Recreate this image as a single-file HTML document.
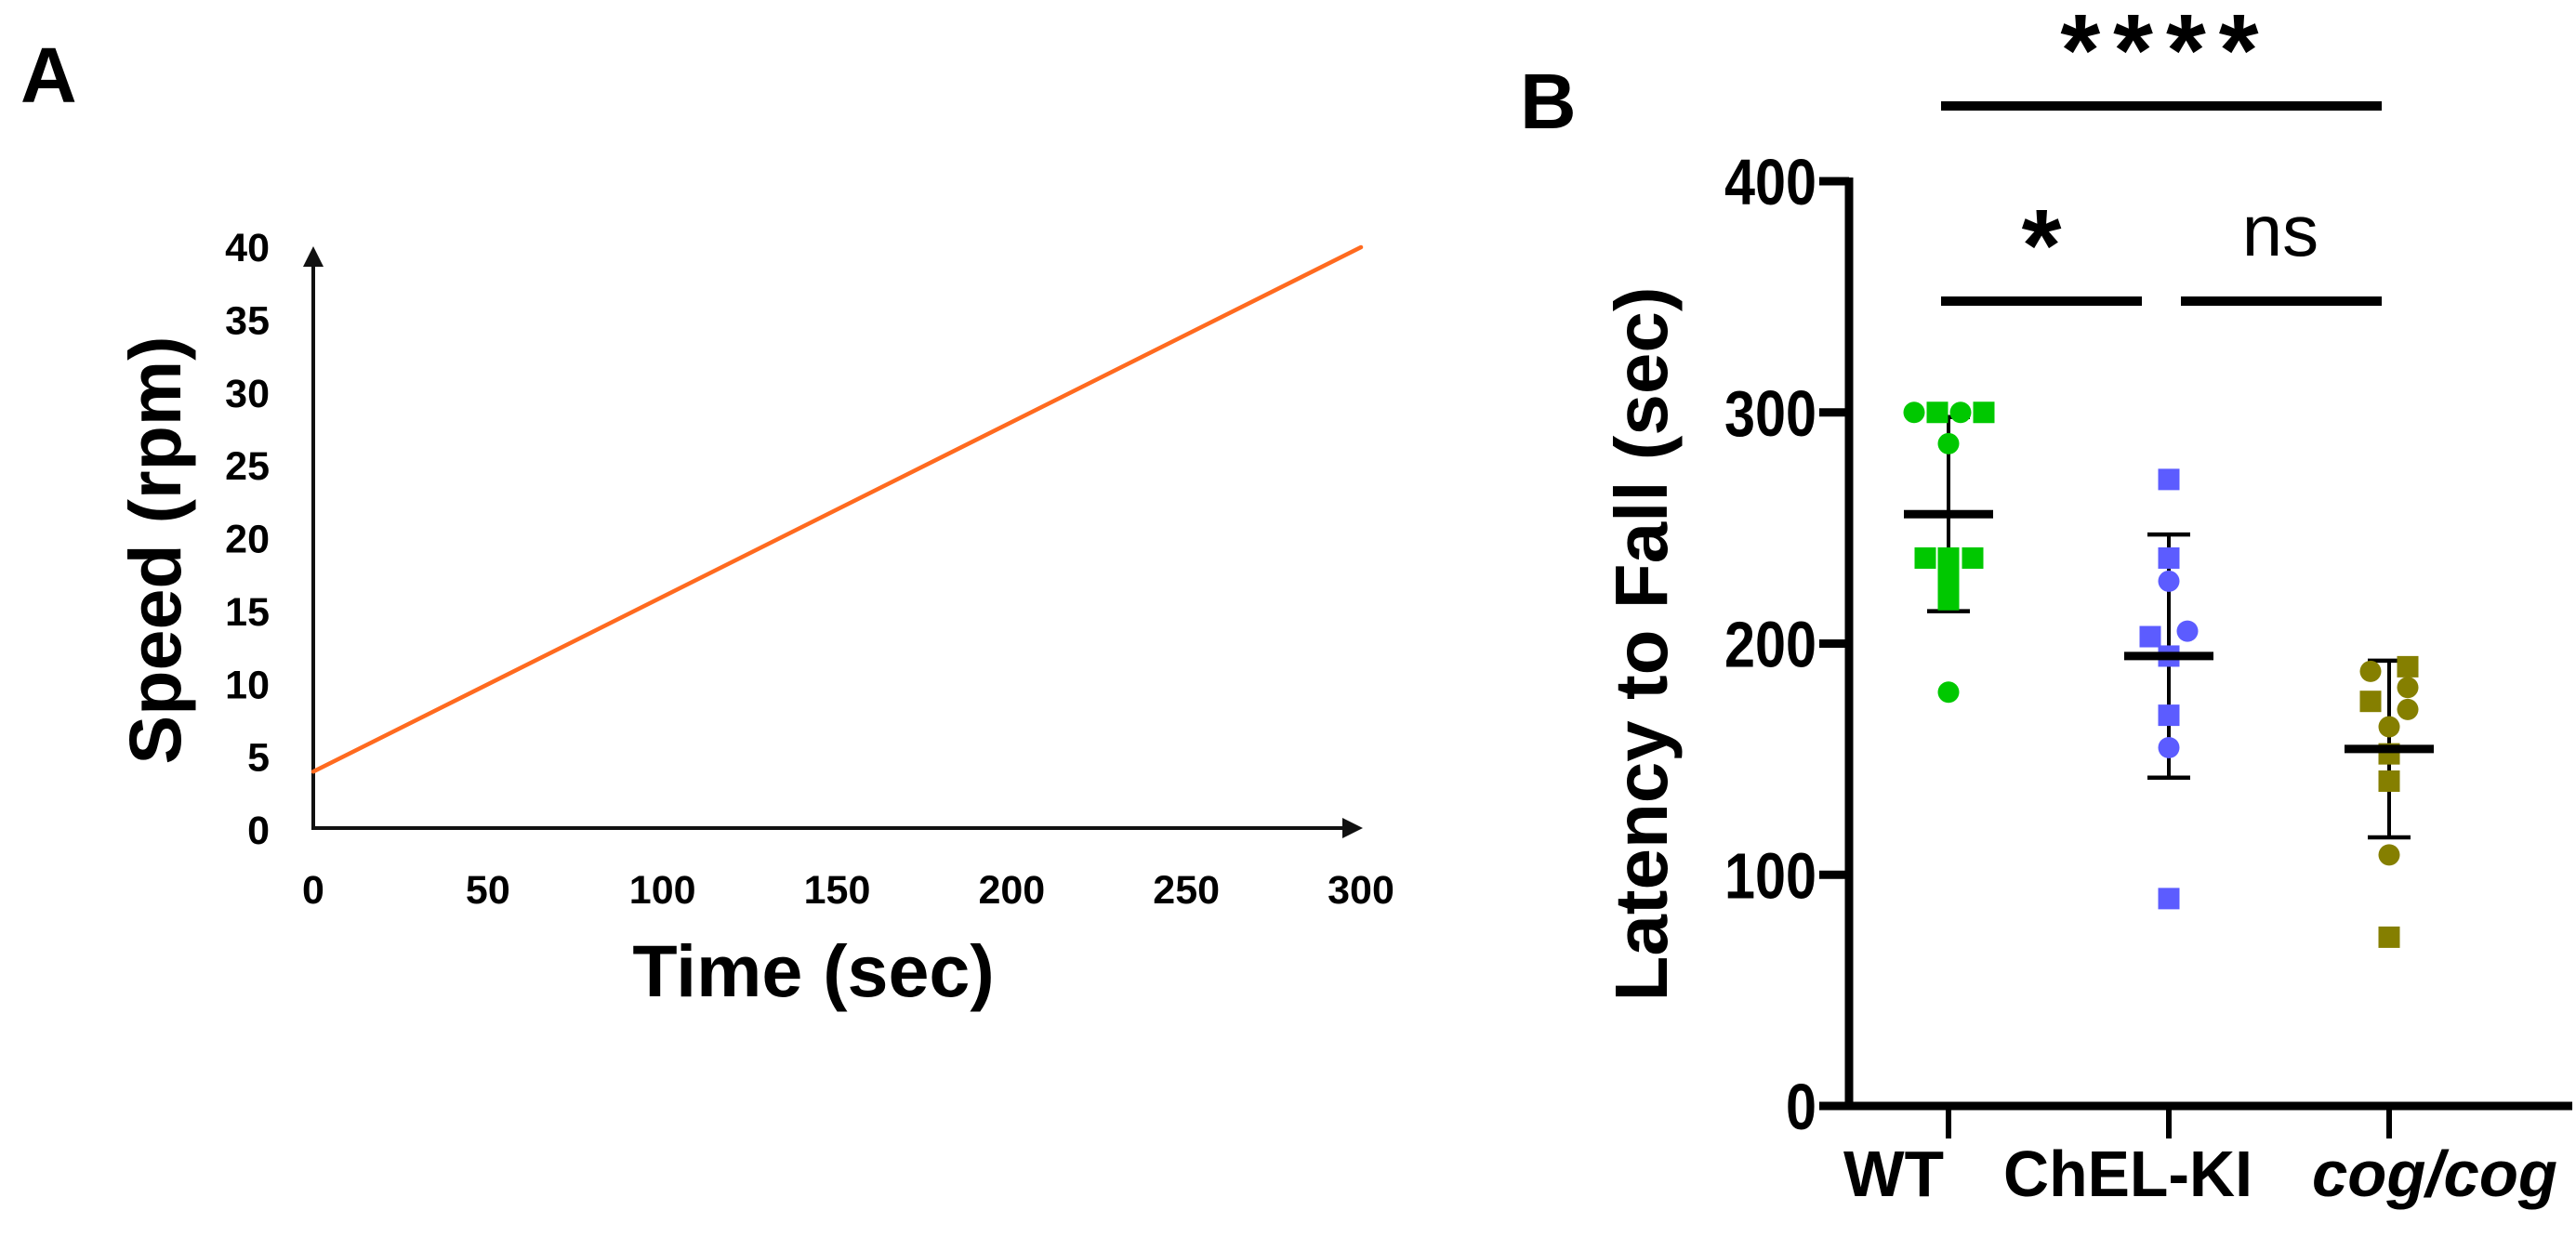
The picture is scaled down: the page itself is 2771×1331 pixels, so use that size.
<!DOCTYPE html>
<html><head><meta charset="utf-8"><style>
html,body{margin:0;padding:0;background:#fff;}
svg{display:block;font-family:"Liberation Sans",sans-serif;}
</style></head><body>
<svg id="fig" width="2771" height="1331" viewBox="0 0 2771 1331" xmlns="http://www.w3.org/2000/svg">
<text x="22" y="110" font-size="84" font-weight="bold">A</text>
<text x="1635" y="138" font-size="84" font-weight="bold">B</text>
<g id="pa"></g>
<g id="pb"></g>
</svg>
<script>
// Panel A data
const aXTicks = [0, 50, 100, 150, 200, 250, 300];
const aYTicks = [0, 5, 10, 15, 20, 25, 30, 35, 40];
const aLineX = [0, 300];
const aLineY = [4, 40];
// Panel B data
const bCategories = ['WT', 'ChEL-KI', 'cog/cog'];
const bYTicks = [0, 100, 200, 300, 400];
const wtValues = [300, 300, 300, 300, 286.5, 237, 237, 237, 228, 219, 179];
const wtShapes = ['c','s','c','s','c','s','s','s','s','s','c'];
const wtJitter = [-37, -12, 13, 38, 0, -25, 0, 26, 0, 0, 0];
const chelValues = [271, 237, 227, 203, 205.4, 194.6, 169, 155, 89.7];
const chelShapes = ['s','s','c','s','c','s','s','c','s'];
const chelJitter = [0, 0, 0, -20, 20, 0, 0, 0, 0];
const cogValues = [188, 190, 181, 175, 171.5, 164, 152.3, 140.5, 108.6, 73];
const cogShapes = ['c','s','c','s','c','c','s','s','c','s'];
const cogJitter = [-20, 20, 20, -20, 20, 0, 0, 0, 0, 0];
const bMeans = [256, 194.6, 154.4];
const bSD = [42, 52.6, 38.2];
const bColors = ['#00c800', '#5c5cff', '#857f00'];

const NS = 'http://www.w3.org/2000/svg';
function mk(parent, tag, attrs, text) {
  const e = document.createElementNS(NS, tag);
  for (const k in attrs) e.setAttribute(k, attrs[k]);
  if (text !== undefined) e.textContent = text;
  parent.appendChild(e);
  return e;
}

// ---------- Panel A ----------
const pa = document.getElementById('pa');
const ax = v => 337 + (v - 0) * (1464 - 337) / 300;
const ay = v => 893 - v * (893 - 266) / 40;
let e;
e = mk(pa, 'line', {x1: 337, y1: 893, x2: 337, y2: 285, stroke: '#111', 'stroke-width': 4});
 
e = mk(pa, 'polygon', {points: '337,265 326,287 348,287', fill: '#111'});
 
e = mk(pa, 'line', {x1: 337, y1: 891, x2: 1445, y2: 891, stroke: '#111', 'stroke-width': 4});
 
e = mk(pa, 'polygon', {points: '1466,891 1444,880 1444,902', fill: '#111'});
 
aYTicks.forEach(t => {
  const el = mk(pa, 'text', {x: 290, y: ay(t) + 15, 'font-size': 43, 'font-weight': 'bold', 'text-anchor': 'end'}, String(t));
   
});
aXTicks.forEach(t => {
  const el = mk(pa, 'text', {x: ax(t), y: 972, 'font-size': 43, 'font-weight': 'bold', 'text-anchor': 'middle'}, String(t));
   
});
e = mk(pa, 'line', {x1: ax(aLineX[0]), y1: ay(aLineY[0]), x2: ax(aLineX[1]), y2: ay(aLineY[1]), stroke: '#ff6a1f', 'stroke-width': 4.5, 'stroke-linecap': 'round'});
 
e = mk(pa, 'text', {x: 875, y: 1072, 'font-size': 79, 'font-weight': 'bold', 'text-anchor': 'middle'}, 'Time (sec)');
 
e = mk(pa, 'text', {x: 0, y: 0, 'font-size': 79, 'font-weight': 'bold', 'text-anchor': 'middle', transform: 'translate(194,592) rotate(-90)'}, 'Speed (rpm)');
 

// ---------- Panel B ----------
const pb = document.getElementById('pb');
const bx = i => [2096, 2333, 2570][i];
const by = v => 1190 - v * (1190 - 195) / 400;
e = mk(pb, 'line', {x1: 1989, y1: 191, x2: 1989, y2: 1194, stroke: '#000', 'stroke-width': 9});
 
e = mk(pb, 'line', {x1: 1957, y1: 1190, x2: 2767, y2: 1190, stroke: '#000', 'stroke-width': 9});
 
bYTicks.forEach(t => {
  const l = mk(pb, 'line', {x1: 1957, y1: by(t), x2: 1989, y2: by(t), stroke: '#000', 'stroke-width': 9});
   
  const s = String(t);
  const w = s.length * 33;
  const el = mk(pb, 'text', {x: 1954 - w, y: by(t) + 25, 'font-size': 70, 'font-weight': 'bold', textLength: w, lengthAdjust: 'spacingAndGlyphs'}, s);
   
});
const labelX = [1983, 2155, 2487];
const labelW = [108, 268, 264];
bCategories.forEach((c, i) => {
  const l = mk(pb, 'line', {x1: bx(i), y1: 1190, x2: bx(i), y2: 1225, stroke: '#000', 'stroke-width': 6});
   
  const attrs = {x: labelX[i], y: 1287, 'font-size': 70, 'font-weight': 'bold', textLength: labelW[i], lengthAdjust: 'spacingAndGlyphs'};
  if (i === 2) attrs['font-style'] = 'italic';
  const el = mk(pb, 'text', attrs, c);
   
});
e = mk(pb, 'text', {x: 0, y: 0, 'font-size': 80, 'font-weight': 'bold', 'text-anchor': 'middle', transform: 'translate(1793,693) rotate(-90)'}, 'Latency to Fall (sec)');
 

// error bars & means
bMeans.forEach((m, i) => {
  const x = bx(i);
  const g = mk(pb, 'g', {});
   
  mk(g, 'line', {x1: x, y1: by(m + bSD[i]), x2: x, y2: by(m - bSD[i]), stroke: '#000', 'stroke-width': 4});
  mk(g, 'line', {x1: x - 23, y1: by(m + bSD[i]), x2: x + 23, y2: by(m + bSD[i]), stroke: '#000', 'stroke-width': 4.5});
  mk(g, 'line', {x1: x - 23, y1: by(m - bSD[i]), x2: x + 23, y2: by(m - bSD[i]), stroke: '#000', 'stroke-width': 4.5});
});
// points
[[wtValues, wtShapes, wtJitter], [chelValues, chelShapes, chelJitter], [cogValues, cogShapes, cogJitter]].forEach((grp, i) => {
  const [vals, shapes, jit] = grp;
  vals.forEach((v, k) => {
    const x = bx(i) + jit[k], y = by(v);
    let p;
    if (shapes[k] === 'c') p = mk(pb, 'circle', {cx: x, cy: y, r: 11.5, fill: bColors[i]});
    else p = mk(pb, 'rect', {x: x - 11.5, y: y - 11.5, width: 23, height: 23, fill: bColors[i]});
    
    
  });
});
bMeans.forEach((m, i) => {
  const l = mk(pb, 'line', {x1: bx(i) - 48, y1: by(m), x2: bx(i) + 48, y2: by(m), stroke: '#000', 'stroke-width': 9});
   
});

// significance
e = mk(pb, 'line', {x1: 2088, y1: 114, x2: 2562, y2: 114, stroke: '#000', 'stroke-width': 10});
 
e = mk(pb, 'text', {x: 2330, y: 92, 'font-size': 110, 'font-weight': 'bold', 'text-anchor': 'middle', 'letter-spacing': 14}, '****');
 
e = mk(pb, 'line', {x1: 2088, y1: 324, x2: 2304, y2: 324, stroke: '#000', 'stroke-width': 10});
 
e = mk(pb, 'text', {x: 2196, y: 302, 'font-size': 110, 'font-weight': 'bold', 'text-anchor': 'middle'}, '*');
 
e = mk(pb, 'line', {x1: 2346, y1: 324, x2: 2562, y2: 324, stroke: '#000', 'stroke-width': 10});
 
e = mk(pb, 'text', {x: 2453, y: 275, 'font-size': 78, 'text-anchor': 'middle'}, 'ns');
 
</script>
</body></html>
